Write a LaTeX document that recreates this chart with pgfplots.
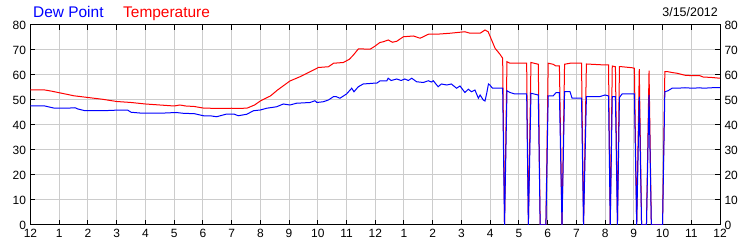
\documentclass[border=0pt]{standalone}
\usepackage{fontspec}
\setmainfont{Liberation Sans}
\usepackage{pgfplots}
\usepackage{pgfplotstable}
\pgfplotsset{compat=1.18}

\pgfplotstableread{
h T
0 54
0.5 54
0.75 53.5
1.0 52.9
1.3 52.2
1.5 51.7
2.0 51.0
2.5 50.3
3.0 49.4
3.5 49.0
4.0 48.4
4.5 48.0
5.0 47.6
5.2 48.0
5.4 47.6
5.7 47.4
6.0 46.8
6.5 46.6
7.0 46.7
7.3 46.6
7.55 46.8
7.8 48.0
8.0 49.6
8.35 51.6
8.6 54.0
9.03 57.6
9.38 59.3
9.73 61.3
10.02 63.0
10.37 63.3
10.55 64.7
10.89 65.0
11.1 66.3
11.24 68.0
11.41 70.4
11.6 70.4
11.82 70.3
12.0 71.6
12.16 73.0
12.28 73.3
12.45 74.0
12.6 73.1
12.75 73.5
12.98 75.3
13.33 75.6
13.56 74.7
13.85 76.3
14.25 76.4
14.6 76.7
15.12 77.3
15.3 76.7
15.65 76.7
15.82 78.0
15.93 77.3
16.05 74.0
16.17 70.7
16.34 68.3
16.435 66.7
16.50 0
16.585 65.3
16.69 64.7
16.86 64.7
17.27 64.7
17.33 0
17.42 65.0
17.675 64.3
17.74 0
17.94 0
18.02 64.7
18.19 64.3
18.29 63.6
18.41 63.6
18.50 0
18.59 64.3
18.78 64.7
18.85 64.7
19.18 64.7
19.25 0
19.35 64.4
20.0 64.0
20.12 64.0
20.18 0
20.25 63.6
20.36 63.3
20.43 0
20.50 63.3
20.59 63.3
20.94 62.9
21.02 62.7
21.10 0
21.19 62.3
21.27 0
21.44 0
21.53 61.7
21.61 0
22.00 0
22.08 61.3
22.19 61.3
22.33 61.0
22.5 60.7
22.78 59.9
23.06 59.7
23.3 59.7
23.41 59.2
23.72 59.0
24.0 58.7
}\temptable

\pgfplotstableread{
h D
0 47.6
0.5 47.6
0.84 46.7
1.23 46.7
1.55 46.9
1.65 46.4
1.9 45.7
2.5 45.7
2.93 45.9
3.39 45.9
3.5 45.1
3.9 44.7
4.5 44.7
5.07 45.0
5.3 44.7
5.71 44.5
6.06 43.6
6.3 43.6
6.48 43.3
6.8 44.3
7.1 44.3
7.23 43.7
7.53 44.3
7.76 45.7
8.0 46.0
8.22 46.7
8.57 47.3
8.8 48.4
9.03 48.0
9.26 48.7
9.73 49.0
9.9 49.7
9.97 49.0
10.19 49.3
10.37 50.0
10.54 51.3
10.65 51.3
10.77 50.7
11.0 52.4
11.18 54.7
11.26 53.3
11.41 55.3
11.58 56.4
11.93 56.7
12.05 56.7
12.16 57.6
12.4 57.6
12.45 58.7
12.55 57.8
12.75 58.4
12.9 57.8
13.03 58.4
13.15 57.8
13.27 58.7
13.44 57.3
13.67 57.0
13.85 57.7
13.95 57.2
14.02 57.7
14.19 55.3
14.3 56.4
14.49 56.0
14.65 56.4
14.83 54.7
14.95 55.6
15.12 53.0
15.24 54.3
15.35 53.3
15.47 54.0
15.59 50.7
15.65 52.0
15.76 50.0
15.82 49.6
15.88 52.7
15.94 56.4
15.99 56.0
16.08 54.7
16.34 54.7
16.435 54.7
16.50 0
16.585 53.7
16.69 53.0
16.86 52.4
17.27 52.4
17.33 0
17.42 52.7
17.675 52.0
17.74 0
17.94 0
18.02 51.6
18.19 51.6
18.29 52.9
18.41 52.9
18.50 0
18.59 53.3
18.78 53.3
18.85 50.7
19.18 50.7
19.25 0
19.35 51.3
19.8 51.3
20.0 52.0
20.12 51.6
20.18 0
20.25 51.3
20.36 51.3
20.43 0
20.50 51.0
20.59 52.4
20.94 52.4
21.02 52.4
21.10 0
21.19 51.3
21.27 0
21.44 0
21.53 52.0
21.61 0
22.00 0
22.08 53.3
22.19 53.7
22.33 54.7
22.5 54.7
22.78 54.9
23.06 54.7
23.3 54.9
23.41 54.7
23.72 54.9
24.0 54.9
}\dewtable

\definecolor{gridgray}{RGB}{204,204,204}

\begin{document}
\begin{tikzpicture}
\pgfplotsset{
  every axis/.append style={
    scale only axis, width=689.5bp, height=200bp,
    xmin=0, xmax=24, ymin=0, ymax=80,
    ytick={0,10,...,80},
    yticklabels={0,10,20,30,40,50,60,70,80},
    tick align=inside,
    major tick length=5bp,
    tick style={black, line width=1bp},
    ticklabel style={font=\fontsize{12}{14}\selectfont, text=black},
  }
}
\begin{axis}[
  name=main,
  axis line style={black, line width=1bp},
  xtick={0,1,...,24},
  xticklabels={12,1,2,3,4,5,6,7,8,9,10,11,12,1,2,3,4,5,6,7,8,9,10,11,12},
  xtick pos=both, xticklabel pos=lower,
  ytick pos=left,
  grid=major,
  major grid style={gridgray, line width=1bp},
  xticklabel style={yshift=-1bp},
  yticklabel style={xshift=-1bp},
]
\addplot[red, line width=1bp, no markers] table[x=h, y=T] {\temptable};
\addplot[blue, line width=1bp, no markers] table[x=h, y=D] {\dewtable};
\coordinate (bl) at (rel axis cs:0,0);
\coordinate (tr) at (rel axis cs:1,1);
\coordinate (tl) at (rel axis cs:0,1);
\end{axis}
\begin{axis}[
  axis x line=none,
  axis y line*=right,
  axis line style={black, line width=1bp},
  yticklabel style={xshift=1bp},
]
\addplot[draw=none] coordinates {(0,0)};
\end{axis}
\node[anchor=base west, inner sep=0pt, text=blue, font=\fontsize{15.5}{18}\selectfont]
  at ([xshift=2.5bp, yshift=7.5bp]tl) {Dew Point};
\node[anchor=base west, inner sep=0pt, text=red, font=\fontsize{15.5}{18}\selectfont]
  at ([xshift=92.5bp, yshift=7.5bp]tl) {Temperature};
\node[anchor=base east, inner sep=0pt, text=black, font=\fontsize{12.5}{15}\selectfont]
  at ([xshift=-2bp, yshift=8bp]tr) {3/15/2012};
\pgfresetboundingbox
\path[use as bounding box] ([shift={(-30.5bp,-25bp)}]bl) rectangle ([shift={(30bp,25bp)}]tr);
\end{tikzpicture}
\end{document}
